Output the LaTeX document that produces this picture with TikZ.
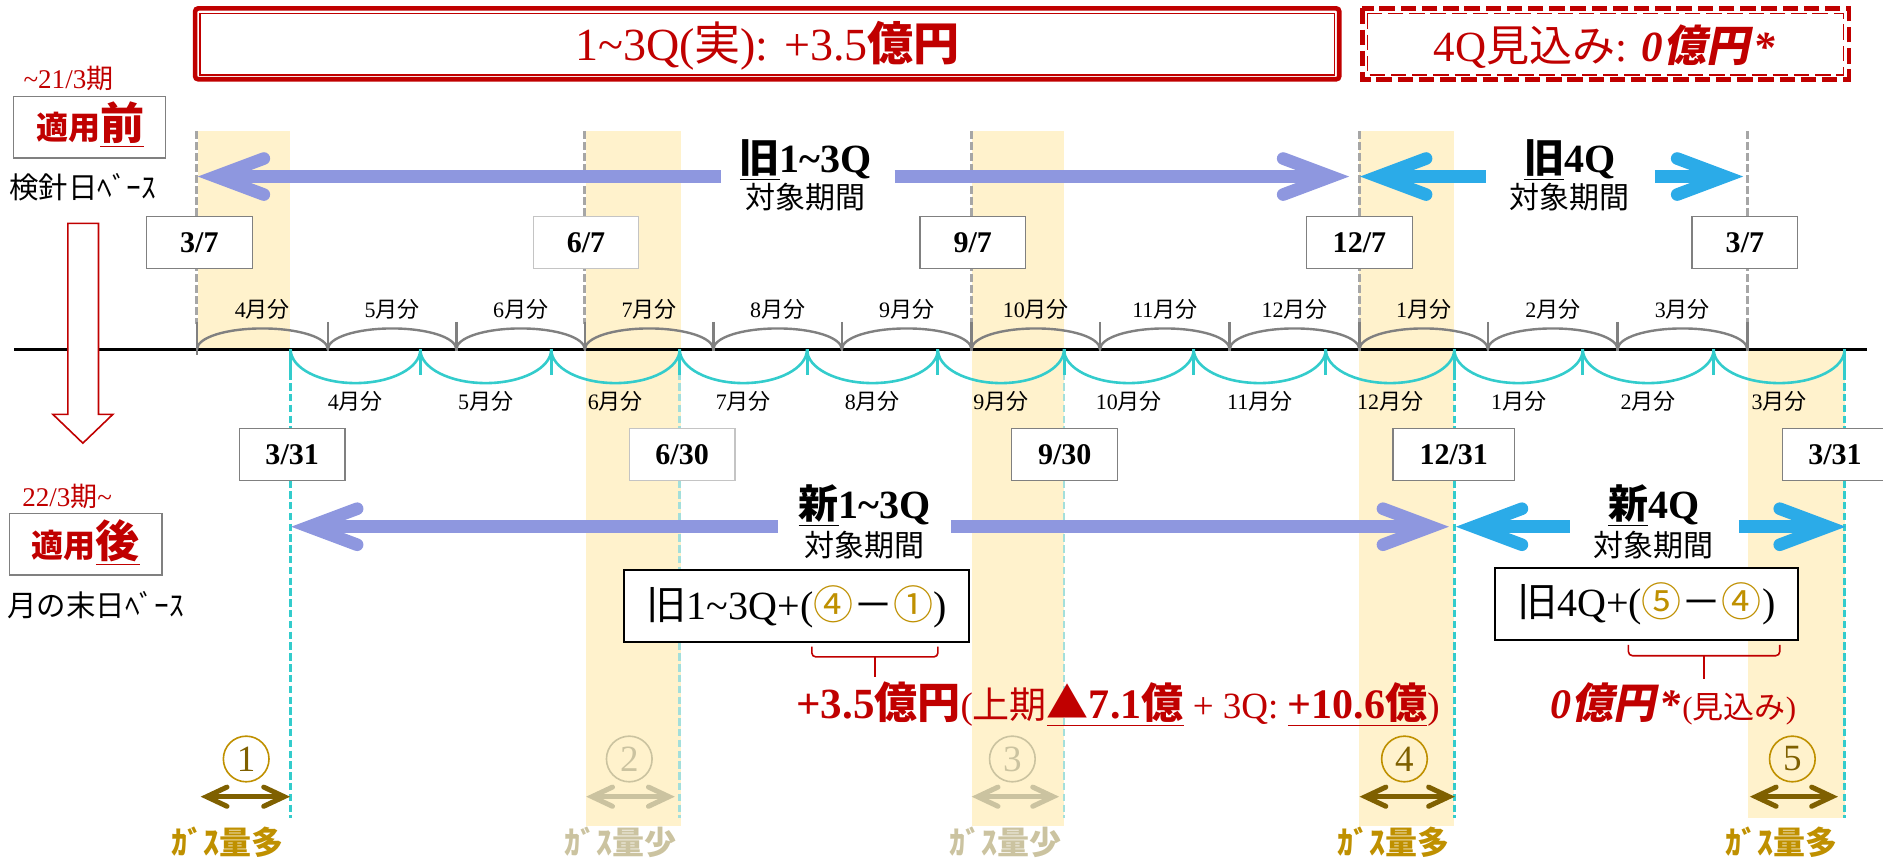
\documentclass[tikz,border=0pt]{standalone}
\usepackage{fontspec}
\setmainfont{Liberation Serif}
\newfontfamily\jp{Noto Sans CJK JP}
\newfontfamily\jpsl{Noto Sans CJK JP}[FakeSlant=0.2]
\newcommand\J[1]{{\jp #1}}
\newcommand\fs[1]{\fontsize{#1}{#1}\selectfont}
\newcommand\tld{\textasciitilde}
\definecolor{cred}{HTML}{C00000}
\definecolor{lav}{HTML}{8E97DF}
\definecolor{cya}{HTML}{2BABE8}
\definecolor{tealc}{HTML}{33CCCC}
\definecolor{pteal}{HTML}{A3DFDB}
\definecolor{bandc}{HTML}{FFF2CC}
\definecolor{gray5}{HTML}{808080}
\definecolor{dgray}{HTML}{A6A6A6}
\definecolor{lgray}{HTML}{C4C4C4}
\definecolor{gold}{HTML}{BF9000}
\definecolor{dgold}{HTML}{7F6000}
\definecolor{pgold}{HTML}{CBC3A0}
\newcommand\arrL[4]{\draw[#1,bigarr] (#2+15,#3) -- (#4,#3);
  \draw[#1,bigarr,line cap=round,line join=miter] (#2+55,#3-15) -- (#2+15,#3) -- (#2+55,#3+15);}
\newcommand\arrR[4]{\draw[#1,bigarr] (#4,#3) -- (#2-15,#3);
  \draw[#1,bigarr,line cap=round,line join=miter] (#2-55,#3-15) -- (#2-15,#3) -- (#2-55,#3+15);}
\newcommand\gas[4]{\draw[#1,line width=2.5pt] (#2+5,#4) -- (#3-5,#4);
  \draw[#1,line width=2.5pt,line cap=round,line join=miter] (#2+22,#4-8) -- (#2+5,#4) -- (#2+22,#4+8);
  \draw[#1,line width=2.5pt,line cap=round,line join=miter] (#3-22,#4-8) -- (#3-5,#4) -- (#3-22,#4+8);}
\begin{document}
\begin{tikzpicture}[x=0.6pt,y=-0.6pt,
  every node/.style={inner sep=0pt,outer sep=0pt},
  gdash/.style={draw=dgray,line width=1.5pt,dash pattern=on 4pt off 1.5pt},
  tdash/.style={line width=1.3pt,dash pattern=on 3.7pt off 1.7pt},
  garc/.style={draw=gray5,line width=1.2pt},
  tarc/.style={draw=tealc,line width=1.3pt},
  datebox/.style={draw=gray5,line width=0.6pt,fill=white,minimum width=52.8pt,minimum height=25.8pt,font=\fs{15}\bfseries},
  mlabel/.style={font=\fs{11}},
  fbox/.style={draw=black,line width=1pt,fill=white,minimum height=36pt,font=\fs{20}},
  numc/.style={circle,line width=0.8pt,minimum size=22.8pt,font=\fs{18.5}},
  gaslbl/.style={font=\fs{16}\jp\bfseries},
  bigarr/.style={line width=6.3pt},
  lbox/.style={draw=gray5,line width=0.8pt,minimum width=76pt,minimum height=30.6pt},
  ttl/.style={anchor=base,font=\fs{20}\bfseries},
  sub/.style={anchor=base,font=\fs{15}},
]
\useasboundingbox (0,0) rectangle (1568,721);

% yellow bands
\fill[bandc] (164.5,109) rectangle (241.5,291);
\fill[bandc] (488,109) rectangle (567,688);
\fill[bandc] (809,109) rectangle (886,688);
\fill[bandc] (1132,109) rectangle (1211,688);
\fill[bandc] (1455.5,291) rectangle (1536,681);

% dashed guide lines
\foreach \x in {164,487,809,1132,1455} \draw[gdash] (\x,109) -- (\x,270);
\foreach \x/\c in {242/tealc,566/pteal,886/pteal,1211/tealc,1536/tealc} \draw[tdash,draw=\c] (\x,310) -- (\x,681);

% timeline
\draw[line width=1.5pt] (12,291) -- (1555,291);

% old (meter reading) arcs
\foreach \a/\b/\n in {164/273/4,273/380/5,380/487/6,487/594/7,594/701/8,701/809/9,809/916/10,916/1024/11,1024/1132/12,1132/1239/1,1239/1347/2,1347/1455/3}{
  \pgfmathsetmacro\xm{(\a+\b)/2}
  \pgfmathsetmacro\ca{\a+0.224*(\b-\a)}
  \pgfmathsetmacro\cb{\b-0.224*(\b-\a)}
  \draw[garc] (\a,291) .. controls (\a,281) and (\ca,273.5) .. (\xm,273.5) .. controls (\cb,273.5) and (\b,281) .. (\b,291);
  \node[mlabel] at (\xm,258) {\n\J{月分}};
}
\foreach \x in {164,273,380,487,594,701,809,916,1024,1132,1239,1347,1455} \draw[gray5,line width=1.3pt] (\x,268) -- (\x,292);
\draw[gray5,line width=1.3pt] (164,268) -- (164,296);

% new (month end) arcs
\foreach \a/\b/\n in {242/350/4,350/459/5,459/566/6,566/672/7,672/781/8,781/886/9,886/994/10,994/1104/11,1104/1211/12,1211/1318/1,1318/1427/2,1427/1536/3}{
  \pgfmathsetmacro\xm{(\a+\b)/2}
  \pgfmathsetmacro\ca{\a+0.224*(\b-\a)}
  \pgfmathsetmacro\cb{\b-0.224*(\b-\a)}
  \draw[tarc] (\a,291) .. controls (\a,306.5) and (\ca,319) .. (\xm,319) .. controls (\cb,319) and (\b,306.5) .. (\b,291);
  \node[mlabel] at (\xm,334.5) {\n\J{月分}};
}
\foreach \x in {242,350,459,566,672,781,886,994,1104,1211,1318,1427,1536} \draw[tealc,line width=1.5pt] (\x,291) -- (\x,312.5);

% date boxes
\node[datebox] (d37a) at (166,202) {3/7};
\node[datebox,draw=lgray] (d67) at (488,202) {6/7};
\node[datebox] (d97) at (810,202) {9/7};
\node[datebox] (d127) at (1132,202) {12/7};
\node[datebox] (d37b) at (1453,202) {3/7};
\node[datebox] (d331a) at (243.3,378.4) {3/31};
\node[datebox,draw=lgray] (d630) at (568,378.4) {6/30};
\node[datebox] (d930) at (886.6,378.4) {9/30};
\node[datebox,minimum width=60.6pt] (d1231) at (1210.5,378.4) {12/31};
\node[datebox] (d331b) at (1528,378.4) {3/31};

% period arrows
\arrL{lav}{164.7}{147}{600}
\arrR{lav}{1123.5}{147}{745}
\arrL{cya}{1132.5}{147}{1237}
\arrR{cya}{1451.6}{147}{1378}
\arrL{lav}{242.4}{438.6}{647.6}
\arrR{lav}{1206.6}{438.6}{792}
\arrL{cya}{1212.3}{438.6}{1307.4}
\arrR{cya}{1537}{438.6}{1448}

\node[ttl] (old13) at (671,144) {\underline{\J{旧}}1\tld 3Q};
\node[sub] (old13b) at (671,174) {\J{対象期間}};
\node[ttl] (old4) at (1307,144) {\underline{\J{旧}}4Q};
\node[sub] (old4b) at (1307,174) {\J{対象期間}};
\node[ttl] (new13) at (720,432) {\underline{\J{新}}1\tld 3Q};
\node[sub] (new13b) at (720,463) {\J{対象期間}};
\node[ttl] (new4) at (1377,432) {\underline{\J{新}}4Q};
\node[sub] (new4b) at (1377,463) {\J{対象期間}};

% formula boxes
\node[fbox,minimum width=172.2pt] (fA) at (663.5,505) {\J{旧}1\tld 3Q+(\textcolor{gold}{\J{④}}\J{－}\textcolor{gold}{\J{①}})};
\node[fbox,minimum width=151.5pt] (fB) at (1370.8,503) {\J{旧}4Q+(\textcolor{gold}{\J{⑤}}\J{－}\textcolor{gold}{\J{④}})};

% braces
\draw[cred,line width=0.8pt,rounded corners=2pt] (676,538.5) -- (676,547) -- (781,547) -- (781,538.5);
\draw[cred,line width=0.8pt] (728.5,547) -- (728.5,563.5);
\draw[cred,line width=0.8pt,rounded corners=2pt] (1356,537) -- (1356,546) -- (1482,546) -- (1482,537);
\draw[cred,line width=0.8pt] (1419,546) -- (1419,565);

% results
\node[anchor=base west,text=cred] (resA) at (663,598) {\fs{21.5}\bfseries +3.5\J{億円}\fs{18.5}\mdseries (\J{上期}\fs{21}\bfseries\underline{\J{▲}7.1\J{億}}\fs{18.5}\mdseries{} + 3Q: \fs{21}\bfseries\underline{+10.6\J{億}}\fs{18.5}\mdseries)};
\node[anchor=base west,text=cred] (resB) at (1291,598) {\fs{21}\bfseries\itshape 0{\jpsl 億円}\kern2pt*\fs{15.5}\mdseries\upshape\kern1pt(\J{見込み})};

% numbered markers
\node[numc,draw=gold,text=dgold] (c1) at (205,632) {1};
\node[numc,draw=pgold,text=pgold] (c2) at (524,632) {2};
\node[numc,draw=pgold,text=pgold] (c3) at (843,632) {3};
\node[numc,draw=gold,text=dgold] (c4) at (1169.5,632) {4};
\node[numc,draw=gold,text=dgold] (c5) at (1492.5,632) {5};
\gas{dgold}{167}{241.6}{663.4}
\gas{pgold}{488}{562}{663.4}
\gas{pgold}{809}{882}{663.4}
\gas{dgold}{1132}{1211.6}{663.4}
\gas{dgold}{1457}{1530.6}{663.4}
\node[gaslbl,text=gold] (g1) at (189.6,701.5) {ｶﾞｽ量多};
\node[gaslbl,text=pgold] (g2) at (516.7,701.5) {ｶﾞｽ量少};
\node[gaslbl,text=pgold] (g3) at (837,701.5) {ｶﾞｽ量少};
\node[gaslbl,text=gold] (g4) at (1160.7,701.5) {ｶﾞｽ量多};
\node[gaslbl,text=gold] (g5) at (1483.6,701.5) {ｶﾞｽ量多};

% left column
\node[font=\fs{13.5},text=cred] (p1) at (57,65.5) {\tld 21/3\J{期}};
\node[lbox] (mae) at (74.5,106) {};
\node[anchor=base,text=cred] (maet) at (75,116.5) {\jp\bfseries\fs{16}適用\fs{22}\underline{前}};
\node[font=\fs{14.7}] (kb) at (69,156) {\J{検針日ﾍﾞｰｽ}};
\draw[cred,line width=0.8pt,fill=white] (56.5,186) -- (82,186) -- (82,345) -- (94,345) -- (69,369) -- (44,345) -- (56.5,345) -- cycle;
\node[font=\fs{13.5},text=cred] (p2) at (56,413.5) {22/3\J{期}\tld};
\node[lbox] (ato) at (71.4,453.2) {};
\node[anchor=base,text=cred] (atot) at (71.6,464) {\jp\bfseries\fs{16}適用\fs{22}\underline{後}};
\node[font=\fs{14.7}] (mb) at (79.6,504) {\J{月の末日ﾍﾞｰｽ}};

% top summary boxes
\draw[cred,line width=2.3pt,rounded corners=1.5pt] (162.5,7) rectangle (1115.2,66);
\draw[cred,line width=0.7pt] (166.7,11.1) rectangle (1111,62.3);
\node[anchor=base,font=\fs{23},text=cred] (t1) at (639,50) {1\tld 3Q(\J{実}): +3.5\J{\bfseries 億円}};
\draw[cred,line width=2.3pt,dash pattern=on 7.7pt off 2.9pt] (1134.5,7) rectangle (1539.5,66);
\draw[cred,line width=0.7pt,dash pattern=on 7.7pt off 2.9pt] (1138.7,11.1) rectangle (1535.3,62.3);
\node[anchor=base,font=\fs{21.5},text=cred] (t2) at (1336,51) {4Q\J{見込み}: {\bfseries\itshape 0{\jpsl 億円}\kern2pt*}};
\end{tikzpicture}
\end{document}
